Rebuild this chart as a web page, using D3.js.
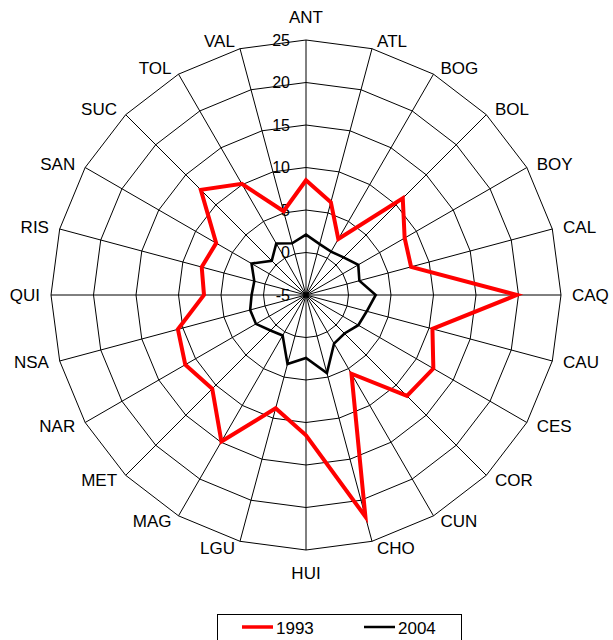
<!DOCTYPE html>
<html>
<head>
<meta charset="utf-8">
<script src="https://cdn.jsdelivr.net/npm/d3@7"></script>
<style>
  html, body { margin: 0; padding: 0; background: #fff; }
  svg { display: block; font-family: "Liberation Sans", Arial, sans-serif; }
</style>
</head>
<body>
<svg id="chart" width="613" height="640"></svg>
<script>
const categories = ["ANT","ATL","BOG","BOL","BOY","CAL","CAQ","CAU","CES","COR","CUN","CHO",
                    "HUI","LGU","MAG","MET","NAR","NSA","QUI","RIS","SAN","SUC","TOL","VAL"];
const values1993 = [8.5, 6.3, 2.6, 11.1, 8.4, 7.8, 19.8, 10.4, 12.3, 11.8, 5.7, 22.0,
                    11.5, 8.8, 14.9, 10.6, 11.4, 10.6, 7.0, 7.7, 7.2, 12.5, 10.1, 5.2];
const values2004 = [2.1, 1.2, 0.9, 1.25, 2.1, 1.5, 3.2, 2.4, 2.1, 1.4, 1.6, 4.5,
                    2.4, 3.4, 0.5, 0.9, 1.8, 1.8, 1.4, 1.3, 2.4, 0.7, 2.0, 1.3];
const tickValues = [-5, 0, 5, 10, 15, 20, 25];
const seriesNames = ["1993", "2004"];
const seriesColors = ["#ff0000", "#000000"];

const svg = d3.select("#chart");
const cx = 306, cy = 295, R = 255;
const r = d3.scaleLinear().domain([-5, 25]).range([0, R]);
const angle = d3.scalePoint().domain(categories).range([0, 2 * Math.PI * (categories.length - 1) / categories.length]);

const pt = (cat, v) => {
  const a = angle(cat);
  return [cx + r(v) * Math.sin(a), cy - r(v) * Math.cos(a)];
};

const g = svg.append("g");

// grid polygons
tickValues.filter(t => t > -5).forEach(t => {
  g.append("path")
    .attr("d", d3.line()(categories.map(c => pt(c, t))) + "Z")
    .attr("fill", "none").attr("stroke", "#000").attr("stroke-width", 1);
});
// spokes
categories.forEach(c => {
  const [x, y] = pt(c, 25);
  g.append("line").attr("x1", cx).attr("y1", cy).attr("x2", x).attr("y2", y)
    .attr("stroke", "#000").attr("stroke-width", 1);
});

// tick labels
tickValues.forEach(t => {
  g.append("text").attr("x", cx - 16).attr("y", cy - r(t))
    .attr("text-anchor", "end").attr("dominant-baseline", "central")
    .attr("font-size", 16).attr("fill", "#000").text(t);
});

// category labels
categories.forEach(c => {
  const a = angle(c);
  const [vx, vy] = pt(c, 25);
  const s = Math.sin(a), co = Math.cos(a);
  let anchor, x, y;
  if (Math.abs(s) < 0.01) {
    anchor = "middle"; x = vx; y = vy + (co > 0 ? -23 : 23);
  } else {
    anchor = s > 0 ? "start" : "end";
    x = vx + Math.sign(s) * (3 + 8 * Math.abs(s));
    y = vy - co * 7;
  }
  g.append("text").attr("x", x).attr("y", y)
    .attr("text-anchor", anchor).attr("dominant-baseline", "central")
    .attr("font-size", 17).attr("fill", "#000").text(c);
});

// series
const series = [values1993, values2004];
const widths = [4, 2.6];
series.forEach((vals, i) => {
  g.append("path")
    .attr("d", d3.line()(categories.map((c, j) => pt(c, vals[j]))) + "Z")
    .attr("fill", "none").attr("stroke", seriesColors[i])
    .attr("stroke-width", widths[i]).attr("stroke-linejoin", "miter");
});

// legend
const lg = svg.append("g");
lg.append("rect").attr("x", 217.5).attr("y", 614.5).attr("width", 244).attr("height", 40)
  .attr("fill", "#fff").attr("stroke", "#000").attr("stroke-width", 1);
const legX = [242, 364];
seriesNames.forEach((n, i) => {
  lg.append("line").attr("x1", legX[i]).attr("x2", legX[i] + 31)
    .attr("y1", 627).attr("y2", 627)
    .attr("stroke", seriesColors[i]).attr("stroke-width", i === 0 ? 3.5 : 2.5);
  lg.append("text").attr("x", legX[i] + 34).attr("y", 628)
    .attr("dominant-baseline", "central").attr("font-size", 17).text(n);
});
</script>
</body>
</html>
